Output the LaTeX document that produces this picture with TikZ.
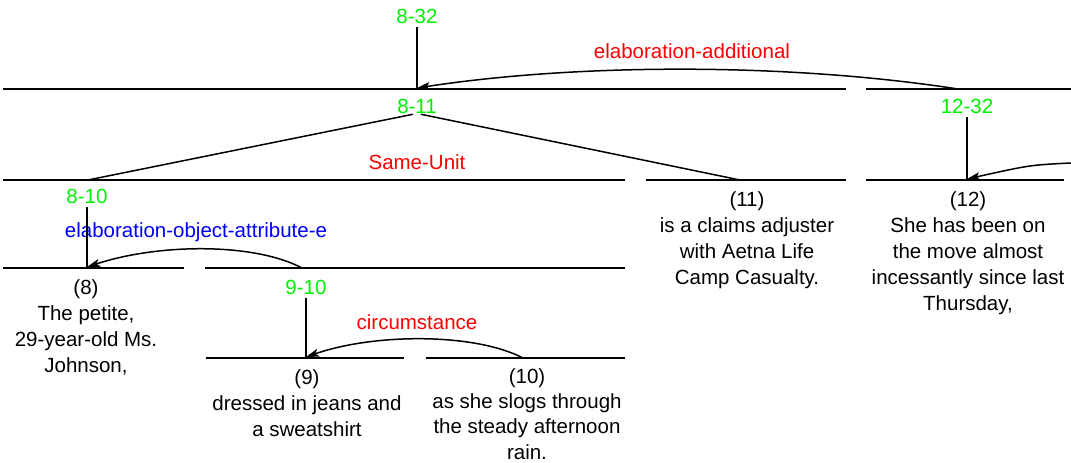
\documentclass[tikz,border=0pt]{standalone}
\usepackage{fontspec}
\setmainfont{Liberation Sans}
\usepackage{xcolor}
\usepackage{tikz}
\usetikzlibrary{positioning,arrows.meta}
\definecolor{spangreen}{RGB}{0,240,0}
\definecolor{relred}{RGB}{255,0,0}
\definecolor{relblue}{RGB}{0,0,255}

\begin{document}
\begin{tikzpicture}
		[x=1pt,y=-1pt,
		every node/.style={inner sep=0pt,font=\fontsize{20.5}{26}\selectfont},
		span/.style={text=spangreen},
		rel/.style={text=relred},
		relobj/.style={text=relblue},
		edu/.style={align=center,anchor=north},
		bar/.style={line width=1.5pt},
		stem/.style={line width=1.5pt,shorten <=4pt},
		sat/.style={line width=1.5pt,-{Stealth[length=13pt,width=8pt,inset=3pt]}}]
		\useasboundingbox (0,0) rectangle (1071,463);

		\node[span] (s832) at (417,16) {8-32};
		\node[span] (s811) at (417,106) {8-11};
		\node[span] (s1232) at (967,106) {12-32};
		\node[span] (s810) at (87,196) {8-10};
		\node[span] (s910) at (306,287) {9-10};

		\node[rel] (radd) at (692,51) {elaboration-additional};
		\node[rel] (rsame) at (417,162) {Same-Unit};
		\node[relobj] (robj) at (196,232) {elaboration-object-attribute-e};
		\node[rel] (rcirc) at (417,322) {circumstance};

		\node[edu] (u8) at (86,279) {(8)\\The petite,\\29-year-old Ms.\\Johnson,};
		\node[edu] (u9) at (307,369) {(9)\\dressed in jeans and\\a sweatshirt};
		\node[edu,font=\fontsize{20.5}{25.4}\selectfont] (u10) at (527,368) {(10)\\as she slogs through\\the steady afternoon\\rain.};
		\node[edu] (u11) at (747,191) {(11)\\is a claims adjuster\\with Aetna Life\\Camp Casualty.};
		\node[edu] (u12) at (968,191) {(12)\\She has been on\\the move almost\\incessantly since last\\Thursday,};

		\coordinate (t811) at (417,88);
		\coordinate (t1232) at (958,89);
		\coordinate (t810) at (88,180);
		\coordinate (t11) at (740,180);
		\coordinate (t12) at (967,179);
		\coordinate (t13) at (1071,163);
		\coordinate (t8) at (87,267);
		\coordinate (t910) at (302,268);
		\coordinate (t9) at (306,357);
		\coordinate (t10) at (523,358);

		\draw[bar] (3,89) -- (846,89) (866,89) -- (1071,89);
		\draw[bar] (3,180) -- (625,180) (646,180) -- (846,180) (866,180) -- (1064,180);
		\draw[bar] (3,268) -- (184,268) (205,268) -- (625,268);
		\draw[bar] (206,358) -- (404,358) (426,358) -- (625,358);

		\draw[stem] (s832.south) -- (t811);
		\draw[stem] (s1232.south) -- (t12);
		\draw[stem] (s810.south) -- (t8);
		\draw[stem] (s910.south) -- (t9);
		\draw[stem] (s811.south) -- (t810);
		\draw[stem] (s811.south) -- (t11);

		\draw[sat] (t1232) .. controls (790,63) and (580,63) .. (t811);
		\draw[sat] (t13) .. controls (1030,165) .. (t12);
		\draw[sat] (t910) .. controls (255,243) and (160,243) .. (t8);
		\draw[sat] (t10) .. controls (475,333) and (375,333) .. (t9);
\end{tikzpicture}
\end{document}
